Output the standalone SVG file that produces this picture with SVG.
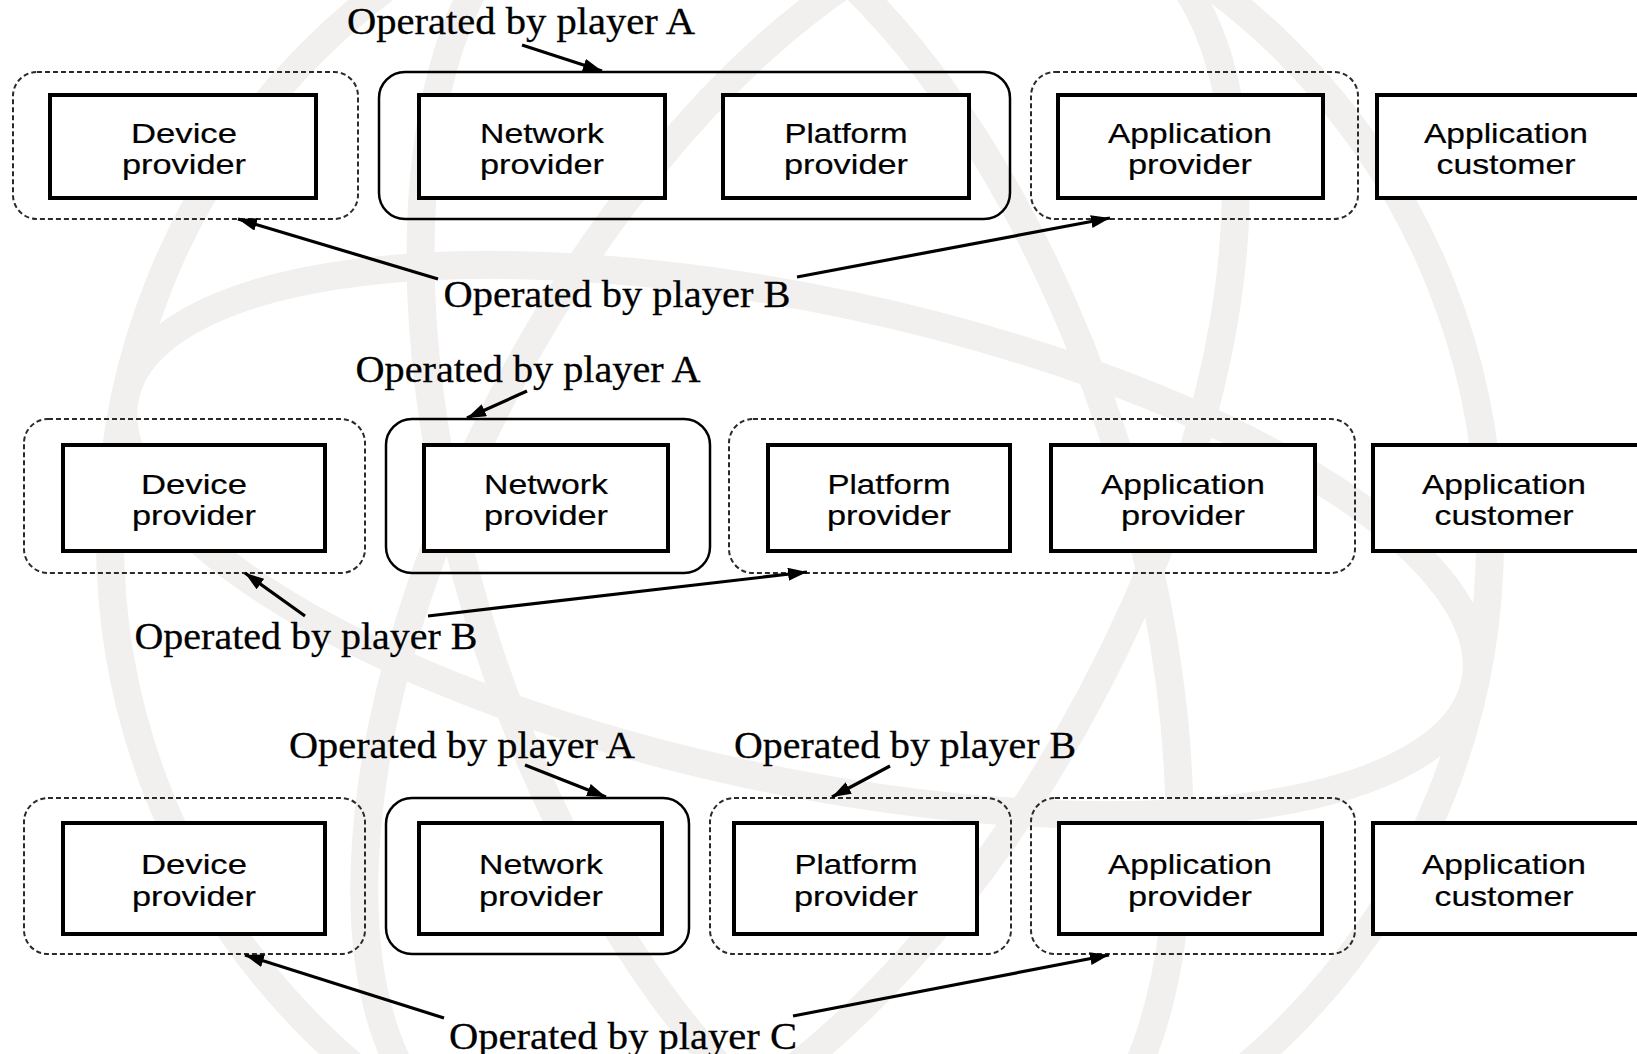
<svg xmlns="http://www.w3.org/2000/svg" width="1637" height="1054" viewBox="0 0 1637 1054">
  <defs>
    <marker id="arrow" markerUnits="userSpaceOnUse" markerWidth="22" markerHeight="14" refX="19" refY="6.5" orient="auto">
      <path d="M0,0 L19,6.5 L0,13 z" fill="#000"/>
    </marker>
  </defs>
  <style>
    .wm { fill: none; stroke: #f2f0ee; stroke-width: 28; }
    .grp-dash { fill: none; stroke: #2a2a2a; stroke-width: 2; stroke-dasharray: 5 3; }
    .grp-solid { fill: none; stroke: #000; stroke-width: 2.5; }
    .box { fill: #fff; stroke: #000; stroke-width: 4; }
    .role { font-family: "Liberation Sans", Arial, sans-serif; font-size: 28px; text-anchor: middle; fill: #000; stroke: #000; stroke-width: 0.2; }
    .note { font-family: "Liberation Serif", "Times New Roman", serif; font-size: 38px; text-anchor: middle; fill: #000; stroke: #000; stroke-width: 0.3; }
    .conn line { stroke: #000; stroke-width: 3.2; marker-end: url(#arrow); }
  </style>

  <rect width="1637" height="1054" fill="#fff"/>

  <!-- faint globe emblem in the background -->
  <g id="emblem">
    <circle class="wm" cx="800" cy="540" r="690"/>
    <ellipse class="wm" cx="800" cy="540" rx="330" ry="690" transform="rotate(-18 800 540)"/>
    <ellipse class="wm" cx="800" cy="540" rx="330" ry="690" transform="rotate(28 800 540)"/>
    <ellipse class="wm" cx="800" cy="540" rx="690" ry="240" transform="rotate(12 800 540)"/>
  </g>

  <!-- ===== Scenario 1 ===== -->
  <g id="s1-groups">
    <rect id="s1-g1" class="grp-dash" x="13" y="72" width="345" height="147" rx="24"/>
    <rect id="s1-g2" class="grp-solid" x="379" y="72" width="631" height="147" rx="26"/>
    <rect id="s1-g3" class="grp-dash" x="1031" y="72" width="327" height="147" rx="24"/>
  </g>
  <g id="s1-device"><rect class="box" x="50" y="95" width="266" height="103"/>
    <text class="role" x="184" y="143" textLength="106" lengthAdjust="spacingAndGlyphs">Device</text><text class="role" x="184" y="174" textLength="124" lengthAdjust="spacingAndGlyphs">provider</text></g>
  <g id="s1-network"><rect class="box" x="419" y="95" width="246" height="103"/>
    <text class="role" x="542" y="143" textLength="124" lengthAdjust="spacingAndGlyphs">Network</text><text class="role" x="542" y="174" textLength="124" lengthAdjust="spacingAndGlyphs">provider</text></g>
  <g id="s1-platform"><rect class="box" x="723" y="95" width="246" height="103"/>
    <text class="role" x="846" y="143" textLength="123" lengthAdjust="spacingAndGlyphs">Platform</text><text class="role" x="846" y="174" textLength="124" lengthAdjust="spacingAndGlyphs">provider</text></g>
  <g id="s1-appprov"><rect class="box" x="1058" y="95" width="265" height="103"/>
    <text class="role" x="1190" y="143" textLength="164" lengthAdjust="spacingAndGlyphs">Application</text><text class="role" x="1190" y="174" textLength="124" lengthAdjust="spacingAndGlyphs">provider</text></g>
  <g id="s1-appcust"><rect class="box" x="1377" y="95" width="264" height="103"/>
    <text class="role" x="1506" y="143" textLength="164" lengthAdjust="spacingAndGlyphs">Application</text><text class="role" x="1506" y="174" textLength="139" lengthAdjust="spacingAndGlyphs">customer</text></g>
  <text class="note" x="521" y="34" textLength="348" lengthAdjust="spacingAndGlyphs">Operated by player A</text>
  <text class="note" x="617" y="307" textLength="347" lengthAdjust="spacingAndGlyphs">Operated by player B</text>

  <!-- ===== Scenario 2 ===== -->
  <g id="s2-groups">
    <rect id="s2-g1" class="grp-dash" x="24" y="419" width="341" height="154" rx="24"/>
    <rect id="s2-g2" class="grp-solid" x="386" y="419" width="324" height="154" rx="26"/>
    <rect id="s2-g3" class="grp-dash" x="729" y="419" width="626" height="154" rx="24"/>
  </g>
  <g id="s2-device"><rect class="box" x="63" y="445" width="262" height="106"/>
    <text class="role" x="194" y="494" textLength="106" lengthAdjust="spacingAndGlyphs">Device</text><text class="role" x="194" y="525" textLength="124" lengthAdjust="spacingAndGlyphs">provider</text></g>
  <g id="s2-network"><rect class="box" x="424" y="445" width="244" height="106"/>
    <text class="role" x="546" y="494" textLength="124" lengthAdjust="spacingAndGlyphs">Network</text><text class="role" x="546" y="525" textLength="124" lengthAdjust="spacingAndGlyphs">provider</text></g>
  <g id="s2-platform"><rect class="box" x="768" y="445" width="242" height="106"/>
    <text class="role" x="889" y="494" textLength="123" lengthAdjust="spacingAndGlyphs">Platform</text><text class="role" x="889" y="525" textLength="124" lengthAdjust="spacingAndGlyphs">provider</text></g>
  <g id="s2-appprov"><rect class="box" x="1051" y="445" width="264" height="106"/>
    <text class="role" x="1183" y="494" textLength="164" lengthAdjust="spacingAndGlyphs">Application</text><text class="role" x="1183" y="525" textLength="124" lengthAdjust="spacingAndGlyphs">provider</text></g>
  <g id="s2-appcust"><rect class="box" x="1373" y="445" width="268" height="106"/>
    <text class="role" x="1504" y="494" textLength="164" lengthAdjust="spacingAndGlyphs">Application</text><text class="role" x="1504" y="525" textLength="139" lengthAdjust="spacingAndGlyphs">customer</text></g>
  <text class="note" x="528" y="382" textLength="345" lengthAdjust="spacingAndGlyphs">Operated by player A</text>
  <text class="note" x="306" y="649" textLength="343" lengthAdjust="spacingAndGlyphs">Operated by player B</text>

  <!-- ===== Scenario 3 ===== -->
  <g id="s3-groups">
    <rect id="s3-g1" class="grp-dash" x="24" y="798" width="341" height="156" rx="24"/>
    <rect id="s3-g2" class="grp-solid" x="386" y="798" width="303" height="156" rx="26"/>
    <rect id="s3-g3" class="grp-dash" x="710" y="798" width="301" height="156" rx="24"/>
    <rect id="s3-g4" class="grp-dash" x="1031" y="798" width="324" height="156" rx="24"/>
  </g>
  <g id="s3-device"><rect class="box" x="63" y="823" width="262" height="111"/>
    <text class="role" x="194" y="874" textLength="106" lengthAdjust="spacingAndGlyphs">Device</text><text class="role" x="194" y="906" textLength="124" lengthAdjust="spacingAndGlyphs">provider</text></g>
  <g id="s3-network"><rect class="box" x="419" y="823" width="243" height="111"/>
    <text class="role" x="541" y="874" textLength="124" lengthAdjust="spacingAndGlyphs">Network</text><text class="role" x="541" y="906" textLength="124" lengthAdjust="spacingAndGlyphs">provider</text></g>
  <g id="s3-platform"><rect class="box" x="734" y="823" width="243" height="111"/>
    <text class="role" x="856" y="874" textLength="123" lengthAdjust="spacingAndGlyphs">Platform</text><text class="role" x="856" y="906" textLength="124" lengthAdjust="spacingAndGlyphs">provider</text></g>
  <g id="s3-appprov"><rect class="box" x="1059" y="823" width="263" height="111"/>
    <text class="role" x="1190" y="874" textLength="164" lengthAdjust="spacingAndGlyphs">Application</text><text class="role" x="1190" y="906" textLength="124" lengthAdjust="spacingAndGlyphs">provider</text></g>
  <g id="s3-appcust"><rect class="box" x="1373" y="823" width="268" height="111"/>
    <text class="role" x="1504" y="874" textLength="164" lengthAdjust="spacingAndGlyphs">Application</text><text class="role" x="1504" y="906" textLength="139" lengthAdjust="spacingAndGlyphs">customer</text></g>
  <text class="note" x="462" y="758" textLength="346" lengthAdjust="spacingAndGlyphs">Operated by player A</text>
  <text class="note" x="905" y="758" textLength="342" lengthAdjust="spacingAndGlyphs">Operated by player B</text>
  <text class="note" x="623" y="1049" textLength="348" lengthAdjust="spacingAndGlyphs">Operated by player C</text>

  <!-- pointers from the operator labels to the groups -->
  <g id="connectors" class="conn">
    <line x1="522" y1="45" x2="602" y2="71"/>
    <line x1="438" y1="279" x2="238" y2="219"/>
    <line x1="797" y1="277" x2="1110" y2="218"/>
    <line x1="527" y1="391" x2="467" y2="418"/>
    <line x1="305" y1="616" x2="245" y2="573"/>
    <line x1="428" y1="616" x2="807" y2="572"/>
    <line x1="525" y1="765" x2="606" y2="797"/>
    <line x1="890" y1="766" x2="832" y2="797"/>
    <line x1="444" y1="1018" x2="245" y2="955"/>
    <line x1="793" y1="1016" x2="1109" y2="955"/>
  </g>
</svg>
